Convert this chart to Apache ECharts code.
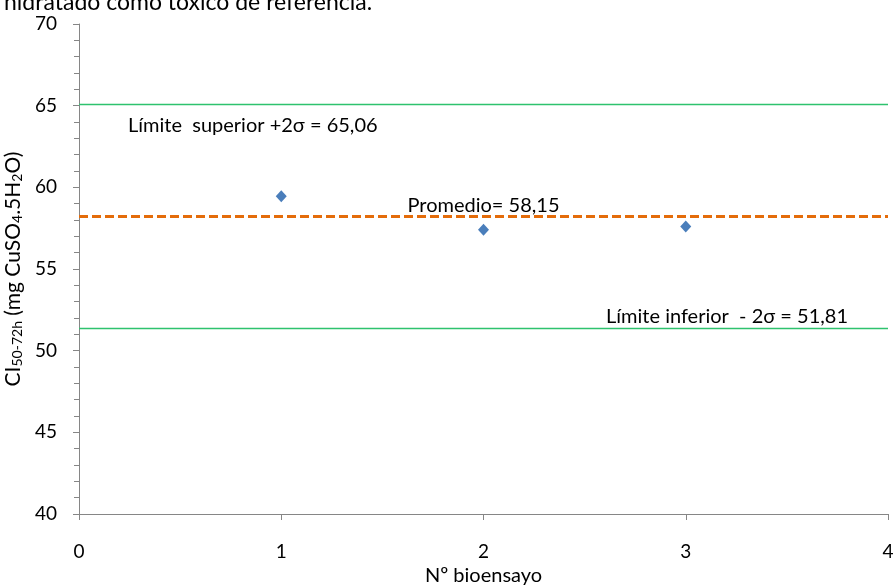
<!DOCTYPE html>
<html><head><meta charset="utf-8">
<script src="https://cdn.jsdelivr.net/npm/echarts@6/dist/echarts.min.js"></script>
<style>html,body{margin:0;padding:0;background:#fff}#c{width:894px;height:586px}</style>
</head><body><div id="c"></div>
<script>
const bioensayo = [1, 2, 3];
const ci50 = [59.45, 57.4, 57.6];
// reference lines as drawn in the picture
const promedio = 58.22;
const limiteSuperior = 65.06;
const limiteInferior = 51.37;
const xTicks = [0, 1, 2, 3, 4];
const yTicks = [40, 45, 50, 55, 60, 65, 70];
const titleText = 'hidratado como tóxico de referencia.';
const labelSup = 'Límite  superior +2σ = 65,06';
const labelProm = 'Promedio= 58,15';
const labelInf = 'Límite inferior  - 2σ = 51,81';

const FONT = 'Lato, "Open Sans", sans-serif';
const chart = echarts.init(document.getElementById('c'), null, {renderer: 'canvas'});
chart.setOption({
  animation: false,
  backgroundColor: '#fff',
  title: {
    text: titleText, left: -1, top: -14,
    textStyle: {fontFamily: FONT, fontSize: 23, fontWeight: 'normal', color: '#000'}
  },
  grid: {left: 79, right: 6, top: 24, bottom: 72, containLabel: false, outerBoundsMode: 'none'},
  xAxis: {
    type: 'value', min: xTicks[0], max: xTicks[xTicks.length - 1], interval: 1,
    name: 'Nº bioensayo', nameLocation: 'middle', nameGap: 52,
    nameTextStyle: {fontFamily: FONT, fontSize: 20, color: '#000'},
    axisLine: {lineStyle: {color: '#868686', width: 1}},
    axisTick: {show: true, inside: false, length: 6, lineStyle: {color: '#868686'}},
    axisLabel: {fontFamily: FONT, fontSize: 19, color: '#000', margin: 28},
    splitLine: {show: false}
  },
  yAxis: {
    type: 'value', min: yTicks[0], max: yTicks[yTicks.length - 1], interval: 5,
    name: '{n|CI}{s|50-72h}{n| (mg CuSO}{s|4}{n|.5H}{s|2}{n|O)}',
    nameLocation: 'middle', nameGap: 47, nameRotate: 90,
    nameTextStyle: {
      rich: {
        n: {fontFamily: FONT, fontSize: 21, color: '#000', verticalAlign: 'bottom', lineHeight: 26},
        s: {fontFamily: FONT, fontSize: 14, color: '#000', verticalAlign: 'bottom', lineHeight: 20}
      }
    },
    axisLine: {show: true, lineStyle: {color: '#868686', width: 1}},
    axisTick: {show: true, inside: false, length: 6, lineStyle: {color: '#868686'}},
    minorTick: {show: true, splitNumber: 5, length: 5, lineStyle: {color: '#868686'}},
    axisLabel: {fontFamily: FONT, fontSize: 19, color: '#000', margin: 22},
    splitLine: {show: false}
  },
  series: [
    {
      type: 'scatter',
      data: bioensayo.map((x, i) => [x, ci50[i]]),
      symbol: 'diamond', symbolSize: [11, 12],
      itemStyle: {color: '#4A7EBB', opacity: 1},
      markLine: {
        silent: true, symbol: 'none',
        data: [
          {yAxis: limiteSuperior, lineStyle: {color: '#2EC26E', width: 1.4, type: 'solid'},
           label: {formatter: labelSup, position: 'insideStartBottom', distance: [49, 11]}},
          {yAxis: promedio, lineStyle: {color: '#E46C0A', width: 3, type: [9, 4]},
           label: {formatter: labelProm, position: 'middle', distance: 1}},
          {yAxis: limiteInferior, lineStyle: {color: '#2EC26E', width: 1.4, type: 'solid'},
           label: {formatter: labelInf, position: 'insideEndTop', distance: [40, 2]}}
        ],
        label: {fontFamily: FONT, fontSize: 20, color: '#000'}
      }
    }
  ]
});
</script></body></html>
